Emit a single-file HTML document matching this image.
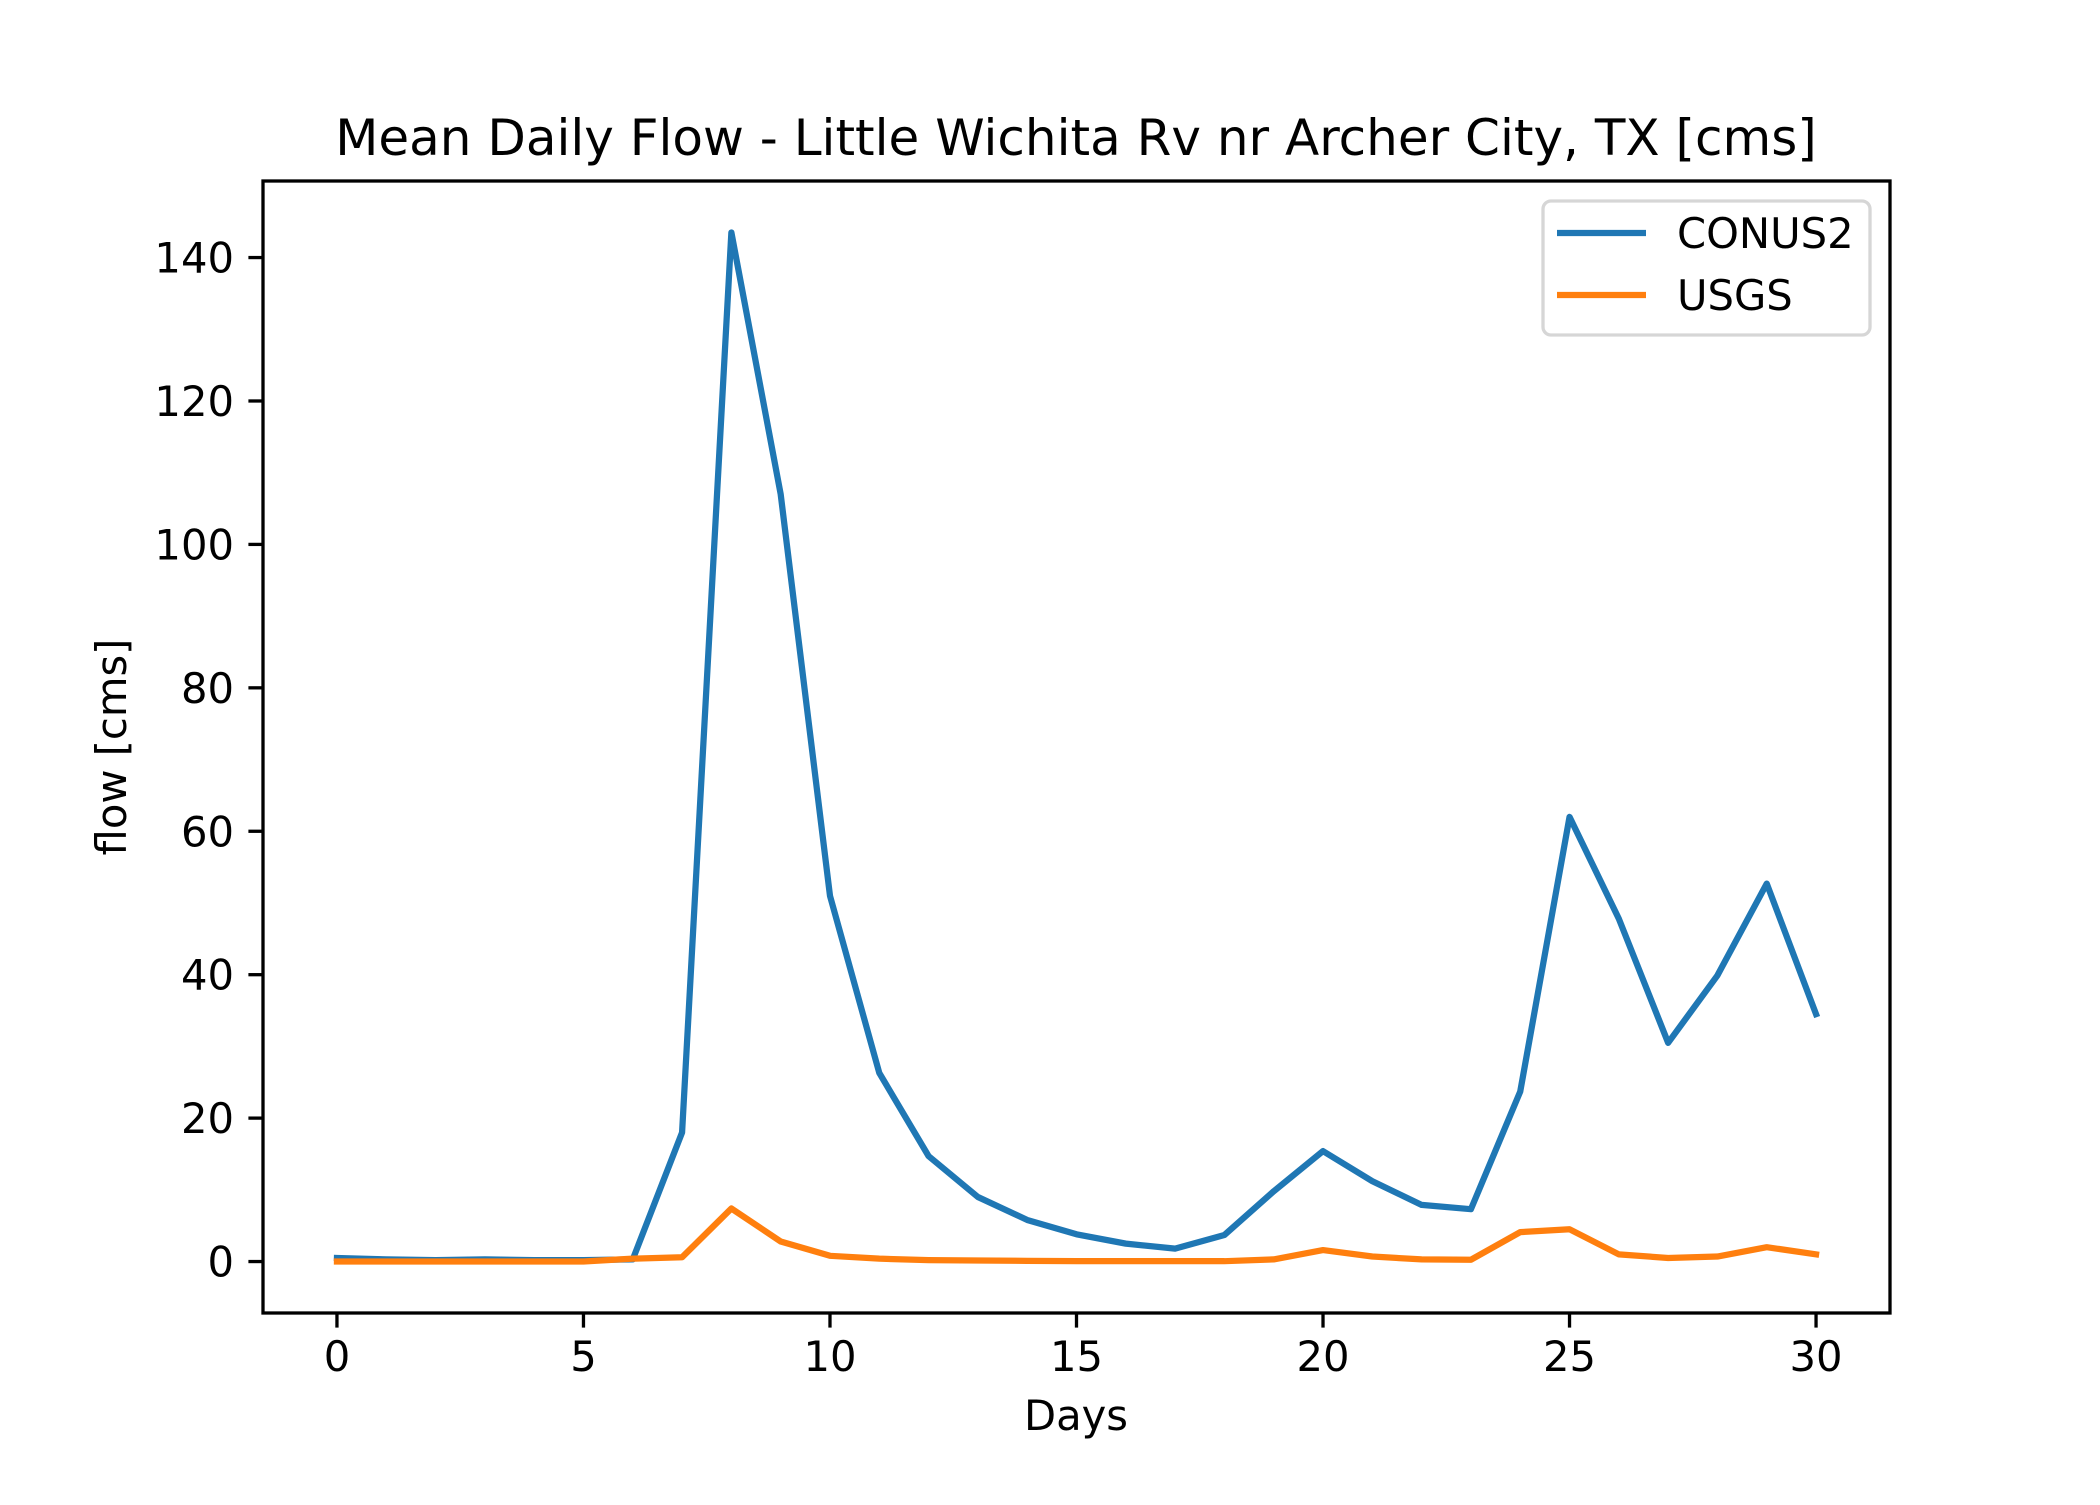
<!DOCTYPE html>
<html><head><meta charset="utf-8"><style>
html,body{margin:0;padding:0;background:#fff;}
svg text{font-family:"DejaVu Sans","Liberation Sans",sans-serif;fill:#000;}
</style></head><body>
<svg id="chart" width="2100" height="1500" viewBox="0 0 2100 1500" xmlns="http://www.w3.org/2000/svg">
<rect x="0" y="0" width="2100" height="1500" fill="#fff"/>
<text x="1076" y="155" font-size="50" text-anchor="middle">Mean Daily Flow - Little Wichita Rv nr Archer City, TX [cms]</text>
<g id="plot"></g>
<text x="1076" y="1430" font-size="41.7" text-anchor="middle">Days</text>
<text x="0" y="0" font-size="41.7" text-anchor="middle" transform="translate(126,747) rotate(-90)">flow [cms]</text>
</svg>
<script>
const days = [0,1,2,3,4,5,6,7,8,9,10,11,12,13,14,15,16,17,18,19,20,21,22,23,24,25,26,27,28,29,30];
const conus2 = [0.5,0.3,0.2,0.3,0.2,0.2,0.3,18,143.5,107,51,26.3,14.7,9,5.8,3.8,2.5,1.8,3.7,9.8,15.4,11.2,7.9,7.3,23.7,62,47.8,30.5,39.9,52.7,34.5];
const usgs = [0,0,0,0,0,0,0.4,0.6,7.4,2.8,0.8,0.4,0.2,0.15,0.1,0.05,0.05,0.05,0.05,0.3,1.6,0.7,0.3,0.25,4.1,4.5,1.0,0.5,0.7,2.0,1.0];
const xTicks = [0,5,10,15,20,25,30];
const yTicks = [0,20,40,60,80,100,120,140];

const NS='http://www.w3.org/2000/svg';
const L=263,R=1890,T=181,B=1313;
const xmin=Math.min(...days),xmax=Math.max(...days),xm=(xmax-xmin)*0.05;
const allY=conus2.concat(usgs);
const ymin=Math.min(...allY),ymax=Math.max(...allY),ym=(ymax-ymin)*0.05;
function xs(v){return L+(v-(xmin-xm))/((xmax+xm)-(xmin-xm))*(R-L);}
function ys(v){return B-(v-(ymin-ym))/((ymax+ym)-(ymin-ym))*(B-T);}
const svg=document.getElementById('chart');
const g=document.getElementById('plot');
function mk(t,a){const e=document.createElementNS(NS,t);for(const k in a)e.setAttribute(k,a[k]);return e;}

function series(vals,color,name){
  const p=mk('polyline',{points:vals.map((v,i)=>xs(days[i])+','+ys(v)).join(' '),fill:'none',stroke:color,'stroke-width':6.25,'stroke-linejoin':'round','stroke-linecap':'square'});
  
  
  g.appendChild(p);
}
series(conus2,'#1f77b4','conus2-line');
series(usgs,'#ff7f0e','usgs-line');

const frame=mk('rect',{x:L,y:T,width:R-L,height:B-T,fill:'none',stroke:'#000','stroke-width':3.3});


g.appendChild(frame);

xTicks.forEach(v=>{
  const x=xs(v);
  const t=mk('line',{x1:x,x2:x,y1:B,y2:B+14.6,stroke:'#000','stroke-width':3.3});
  
  
  g.appendChild(t);
  const tx=mk('text',{x:x,y:1371,'font-size':41.7,'text-anchor':'middle'});
  tx.textContent=v;
  
  
  g.appendChild(tx);
});
yTicks.forEach(v=>{
  const y=ys(v);
  const t=mk('line',{x1:L-14.6,x2:L,y1:y,y2:y,stroke:'#000','stroke-width':3.3});
  
  
  g.appendChild(t);
  const tx=mk('text',{x:234,y:y+15,'font-size':41.7,'text-anchor':'end'});
  tx.textContent=v;
  
  
  g.appendChild(tx);
});

const leg=mk('g',{});


const box=mk('rect',{x:1543,y:201,width:327,height:134,rx:8,fill:'#fff','fill-opacity':0.8,stroke:'#d6d6d6','stroke-width':3.3});
leg.appendChild(box);
[['CONUS2','#1f77b4',233],['USGS','#ff7f0e',295]].forEach(([lab,c,y])=>{
  const e=mk('g',{});
  
  
  e.appendChild(mk('line',{x1:1557,x2:1646,y1:y,y2:y,stroke:c,'stroke-width':6.25}));
  const t=mk('text',{x:1677,y:y+15,'font-size':41.7});
  t.textContent=lab;
  e.appendChild(t);
  leg.appendChild(e);
});
g.appendChild(leg);
</script>
</body></html>
